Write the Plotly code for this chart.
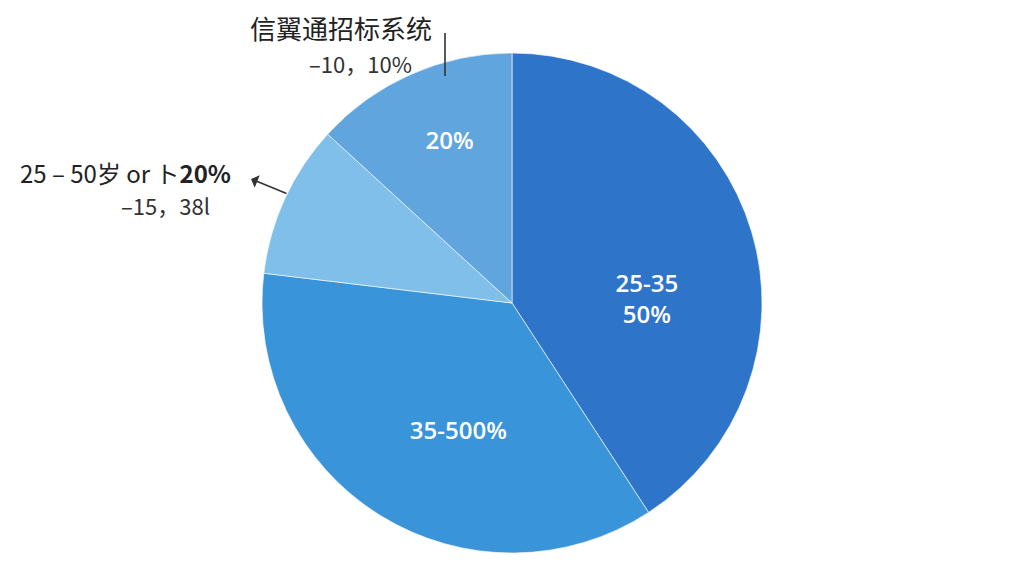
import plotly.graph_objects as go

# slices, clockwise from 12 o'clock
labels = ["25-35", "35-50", "25-50", "信翼通招标系统"]
values = [40.8, 36.1, 9.9, 13.2]
inside_text = ["\u00a0<br>\u00a0<br>\u00a0\u00a0\u00a0\u00a025-35<br>\u00a0\u00a0\u00a0\u00a050%",
               "\u00a0<br>\u00a0\u00a0\u00a0\u00a0\u00a035-500%", "", "\u00a0\u00a0\u00a020%"]
colors = ["#2e74c9", "#3a94d9", "#80bfea", "#60a5de"]

top_label = ["信翼通招标系统", "–10，10%"]
left_label = ["25 – 50岁 or ト<b>20%</b>", "–15，38l"]

W, H = 1024, 576
OFF = 8  # page body margin in the browser


def px(x):
    return (x - OFF) / W


def py(y):
    return 1 - (y - OFF) / H


fig = go.Figure(go.Pie(
    labels=labels,
    values=values,
    text=inside_text,
    textinfo="text",
    textposition="inside",
    insidetextorientation="horizontal",
    textfont=dict(family="Open Sans", size=24, color="white", weight=600),
    marker=dict(colors=colors, line=dict(color="rgba(255,255,255,0.6)", width=1)),
    sort=False,
    direction="clockwise",
    rotation=0,
    hoverinfo="label+value",
    domain=dict(x=[px(261), px(763)], y=[py(553), py(53)]),
))

annos = [
    dict(x=px(341), y=py(28), text=top_label[0], font=dict(size=26, color="#222")),
    dict(x=px(360), y=py(63), text=top_label[1], font=dict(size=22, color="#333")),
    dict(x=px(125), y=py(172), text=left_label[0], font=dict(size=24, color="#222")),
    dict(x=px(165), y=py(205), text=left_label[1], font=dict(size=22, color="#333")),
]
for a in annos:
    fig.add_annotation(xref="paper", yref="paper", showarrow=False,
                       xanchor="center", yanchor="middle",
                       font_family="Noto Sans CJK SC", **a)

# leader for the left label
fig.add_annotation(xref="paper", yref="paper",
                   x=px(251), y=py(179), ax=37, ay=15,
                   text="", showarrow=True, arrowhead=1, arrowsize=1.4,
                   arrowwidth=1.6, arrowcolor="#333")
fig.add_shape(type="line", xref="paper", yref="paper",
              x0=px(445), x1=px(445), y0=py(33), y1=py(76),
              line=dict(color="#333", width=1.6))

fig.update_layout(
    width=W,
    height=H,
    margin=dict(l=0, r=0, t=0, b=0),
    showlegend=False,
    paper_bgcolor="white",
    plot_bgcolor="white",
)

fig.write_html("out.html")
